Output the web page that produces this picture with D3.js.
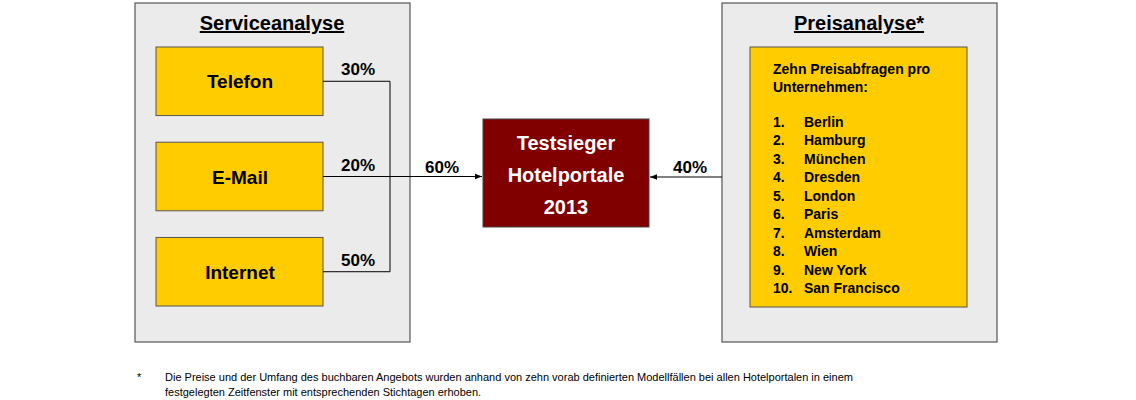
<!DOCTYPE html>
<html><head><meta charset="utf-8">
<script src="https://cdn.jsdelivr.net/npm/d3@7"></script>
<style>body{margin:0;background:#fff}svg{font-family:"Liberation Sans",Arial,sans-serif;font-weight:bold}</style>
</head><body><div id="c"></div>
<script>
const channels = ["Telefon", "E-Mail", "Internet"];
const channelShares = ["30%", "20%", "50%"];
const serviceShare = "60%";
const priceShare = "40%";
const cities = ["Berlin", "Hamburg", "München", "Dresden", "London", "Paris", "Amsterdam", "Wien", "New York", "San Francisco"];
const footnote = ["Die Preise und der Umfang des buchbaren Angebots wurden anhand von zehn vorab definierten Modellfällen bei allen Hotelportalen in einem",
  "festgelegten Zeitfenster mit entsprechenden Stichtagen erhoben."];

const svg = d3.select("#c").append("svg").attr("width", 1136).attr("height", 400);
svg.append("defs").append("marker").attr("id", "ar").attr("viewBox", "0 0 10 10")
  .attr("refX", 10).attr("refY", 5).attr("markerWidth", 7).attr("markerHeight", 7).attr("orient", "auto")
  .append("path").attr("d", "M0,1L10,5L0,9Z").attr("fill", "#000");

const panel = (x, title) => {
  svg.append("rect").attr("x", x).attr("y", 3).attr("width", 275).attr("height", 339)
    .attr("fill", "#ebebeb").attr("stroke", "#555").attr("stroke-width", 1.2);
  svg.append("text").attr("x", x + 137).attr("y", 30).attr("text-anchor", "middle")
    .attr("font-size", 20).attr("text-decoration", "underline").text(title);
};
panel(135, "Serviceanalyse");
panel(722, "Preisanalyse*");

const y = d3.scaleBand().domain(channels).range([47, 306]).paddingInner(0.28);
const g = svg.selectAll("g.ch").data(channels).join("g").attr("class", "ch");
g.append("rect").attr("x", 156).attr("y", d => y(d)).attr("width", 167).attr("height", y.bandwidth())
  .attr("fill", "#ffcc00").attr("stroke", "#555");
g.append("text").attr("x", 240).attr("y", d => y(d) + y.bandwidth() / 2 + 7).attr("text-anchor", "middle")
  .attr("font-size", 19).text(d => d);
g.append("text").attr("x", 358).attr("y", d => y(d) + y.bandwidth() / 2 - 6).attr("text-anchor", "middle")
  .attr("font-size", 17).text((d, i) => channelShares[i]);
g.append("line").attr("x1", 323).attr("x2", 390).attr("y1", d => y(d) + y.bandwidth() / 2).attr("y2", d => y(d) + y.bandwidth() / 2)
  .attr("stroke", "#000");
const mid = c => y(c) + y.bandwidth() / 2;
svg.append("line").attr("x1", 390).attr("x2", 390).attr("y1", mid(channels[0])).attr("y2", mid(channels[2])).attr("stroke", "#000");
svg.append("line").attr("x1", 390).attr("x2", 482).attr("y1", mid(channels[1])).attr("y2", mid(channels[1]))
  .attr("stroke", "#000").attr("marker-end", "url(#ar)");
svg.append("text").attr("x", 442).attr("y", 173).attr("text-anchor", "middle").attr("font-size", 17).text(serviceShare);

svg.append("rect").attr("x", 483).attr("y", 119).attr("width", 166).attr("height", 108).attr("fill", "#800000").attr("stroke", "#444");
["Testsieger", "Hotelportale", "2013"].forEach((t, i) =>
  svg.append("text").attr("x", 566).attr("y", 150 + i * 32).attr("text-anchor", "middle").attr("font-size", 20)
    .attr("fill", "#fff").text(t));

svg.append("line").attr("x1", 722).attr("x2", 650).attr("y1", 177).attr("y2", 177).attr("stroke", "#000").attr("marker-end", "url(#ar)");
svg.append("text").attr("x", 690).attr("y", 173).attr("text-anchor", "middle").attr("font-size", 17).text(priceShare);

svg.append("rect").attr("x", 750).attr("y", 47).attr("width", 217).attr("height", 260).attr("fill", "#ffcc00").attr("stroke", "#555");
svg.append("text").attr("x", 773).attr("y", 74).attr("font-size", 14).text("Zehn Preisabfragen pro");
svg.append("text").attr("x", 773).attr("y", 92).attr("font-size", 14).text("Unternehmen:");
const ly = d3.scalePoint().domain(cities).range([127, 293]);
const li = svg.selectAll("g.city").data(cities).join("g").attr("class", "city");
li.append("text").attr("x", 773).attr("y", d => ly(d)).attr("font-size", 14).text((d, i) => (i + 1) + ".");
li.append("text").attr("x", 804).attr("y", d => ly(d)).attr("font-size", 14).text(d => d);

svg.append("text").attr("x", 137).attr("y", 381).attr("font-size", 11).attr("font-weight", "normal").text("*");
footnote.forEach((t, i) => svg.append("text").attr("x", 165).attr("y", 381 + i * 15).attr("font-size", 11)
  .attr("font-weight", "normal").text(t));
</script></body></html>
